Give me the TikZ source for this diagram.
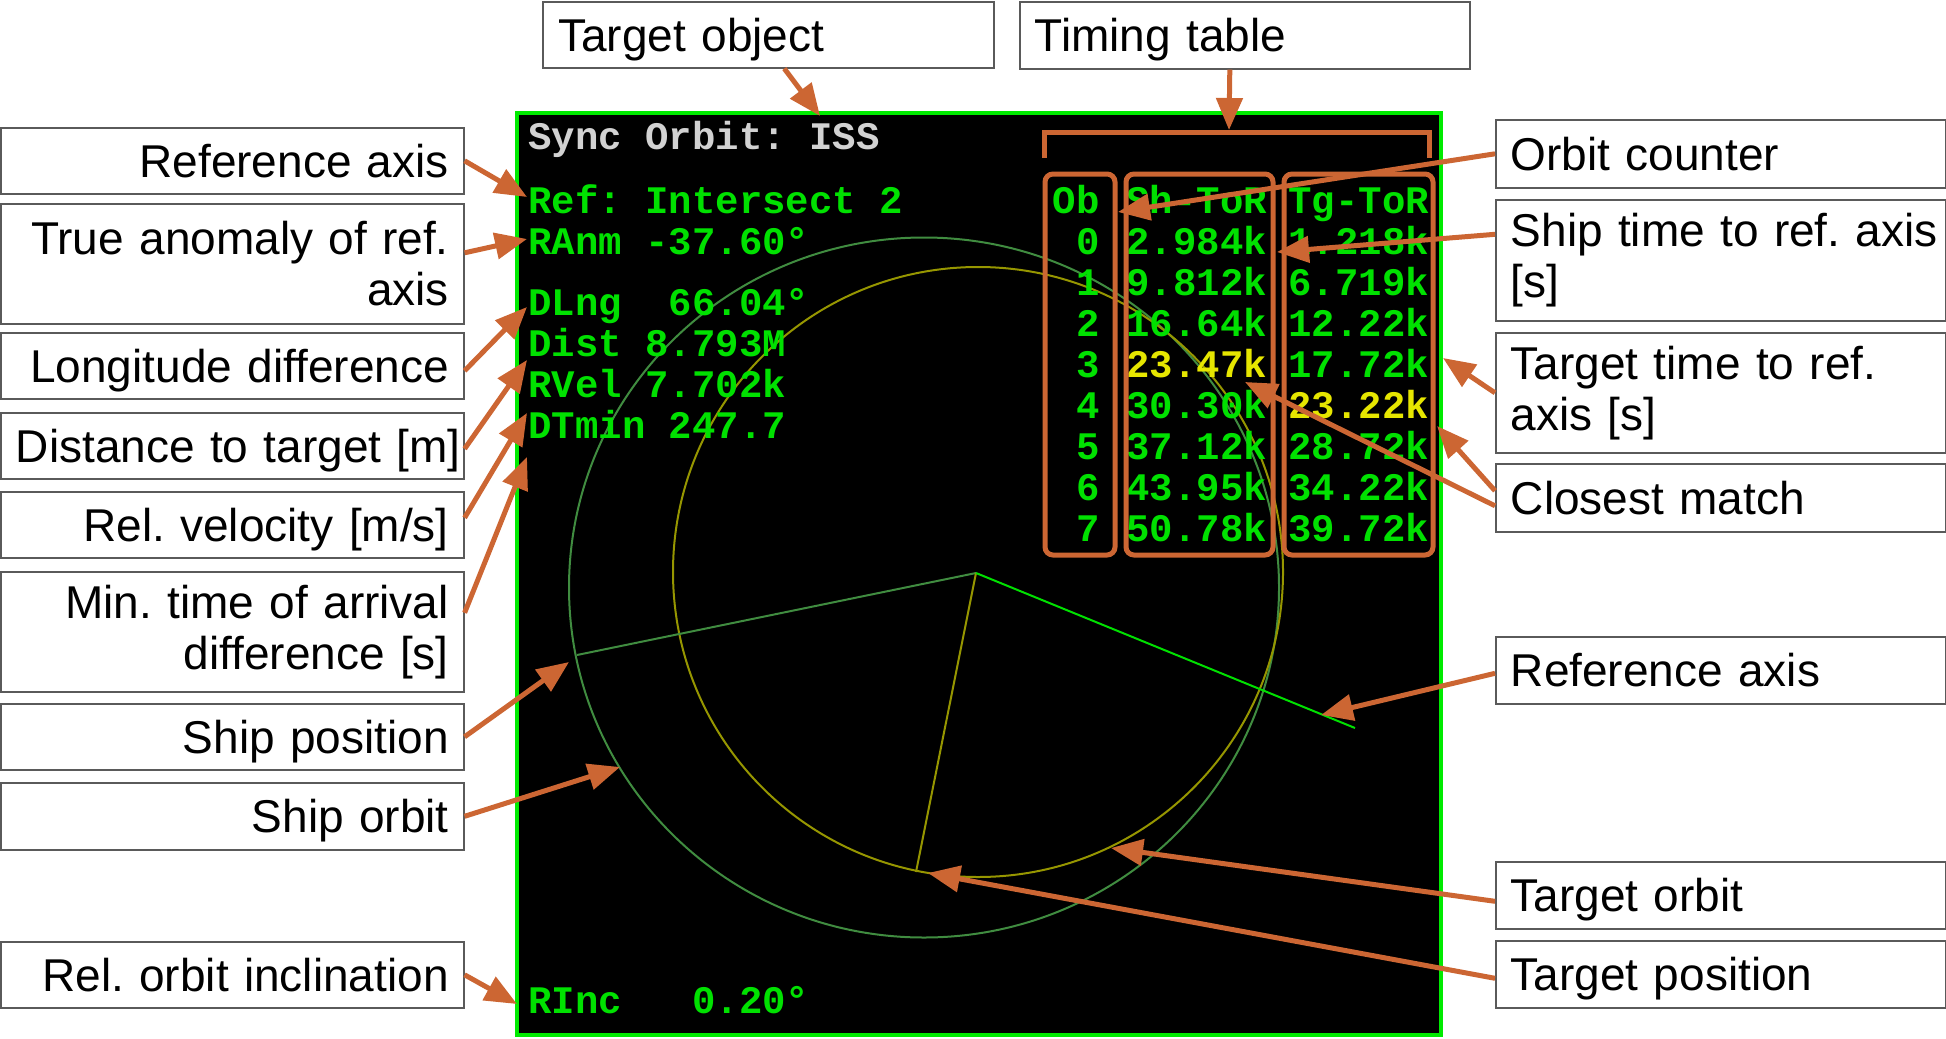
\documentclass[tikz,border=0pt]{standalone}
\usepackage{fontspec}
\setmainfont{Liberation Sans}
\newfontfamily\scrfont{Liberation Mono}
\usetikzlibrary{arrows.meta,calc}
\definecolor{arrorange}{RGB}{204,102,51}
\definecolor{scrgreen}{RGB}{0,225,0}
\definecolor{bordergreen}{RGB}{0,235,0}
\definecolor{shiporb}{RGB}{64,140,64}
\definecolor{tgtorb}{RGB}{150,150,0}
\definecolor{hilite}{RGB}{230,230,0}
\definecolor{syncgray}{RGB}{210,210,210}
\definecolor{boxgray}{RGB}{90,90,90}
\begin{document}
\frenchspacing
\begin{tikzpicture}[x=0.5pt,y=-0.5pt,
  lab/.style={draw=boxgray, line width=0.8pt, fill=white, inner sep=0pt,
    font=\fontsize{23}{25.5}\selectfont},
  one/.style={text height=16.5pt, text depth=0pt},
  labL/.style={lab, align=right, text width=216.5pt, minimum width=231.5pt, anchor=north west},
  labR/.style={lab, align=left, text width=210pt, minimum width=225pt, anchor=north west},
  scr/.style={font=\scrfont\bfseries\fontsize{19.5}{20.5}\selectfont, text=scrgreen,
    anchor=base west, inner sep=0pt},
  scrR/.style={scr, anchor=base east},
  arr/.style={draw=arrorange, line width=2.5pt, -{Triangle[length=16pt,width=13pt]}},
  obox/.style={draw=arrorange, line width=2.5pt, rounded corners=4pt},
  orb/.style={line width=1pt}
]
\useasboundingbox (0,0) rectangle (1946,1038);

% ---------- screen ----------
\fill[black] (517,113) rectangle (1441,1035);
\draw[shiporb, orb] (924,587.5) ellipse [x radius=177.5pt, y radius=175pt];
\draw[tgtorb, orb] (978,572) circle [radius=152.5pt];
\coordinate (ctr) at (976,573);
\coordinate (spos) at (577,655);
\coordinate (tpos) at (916,872);
\coordinate (refend) at (1355,728);
\draw[shiporb, orb] (ctr) -- (spos);
\draw[tgtorb, orb] (ctr) -- (tpos);
\draw[scrgreen, orb] (ctr) -- (refend);

\node[scr, text=syncgray] (sync) at (528,149) {Sync Orbit: ISS};
\node[scr] (l1) at (528,213) {Ref: Intersect 2};
\node[scr] (l2) at (528,254) {RAnm -37.60°};
\node[scr] (l3) at (528,315) {DLng\ \ 66.04°};
\node[scr] (l4) at (528,356) {Dist 8.793M};
\node[scr] (l5) at (528,397) {RVel 7.702k};
\node[scr] (l6) at (528,438) {DTmin 247.7};
\node[scr] (l7) at (528,1013) {RInc\ \ \ 0.20°};

% table
\node[scrR] (ob) at (1100,213) {Ob};
\node[scr] (shh) at (1126,213) {Sh-ToR};
\node[scr] (tgh) at (1288,213) {Tg-ToR};
\node[scrR] (o0) at (1100,254) {0};
\node[scrR] (o1) at (1100,295) {1};
\node[scrR] (o2) at (1100,336) {2};
\node[scrR] (o3) at (1100,377) {3};
\node[scrR] (o4) at (1100,418) {4};
\node[scrR] (o5) at (1100,459) {5};
\node[scrR] (o6) at (1100,500) {6};
\node[scrR] (o7) at (1100,541) {7};
\node[scr] (s0) at (1126,254) {2.984k};
\node[scr] (s1) at (1126,295) {9.812k};
\node[scr] (s2) at (1126,336) {16.64k};
\node[scr, text=hilite] (s3) at (1126,377) {23.47k};
\node[scr] (s4) at (1126,418) {30.30k};
\node[scr] (s5) at (1126,459) {37.12k};
\node[scr] (s6) at (1126,500) {43.95k};
\node[scr] (s7) at (1126,541) {50.78k};
\node[scr] (g0) at (1288,254) {1.218k};
\node[scr] (g1) at (1288,295) {6.719k};
\node[scr] (g2) at (1288,336) {12.22k};
\node[scr] (g3) at (1288,377) {17.72k};
\node[scr, text=hilite] (g4) at (1288,418) {23.22k};
\node[scr] (g5) at (1288,459) {28.72k};
\node[scr] (g6) at (1288,500) {34.22k};
\node[scr] (g7) at (1288,541) {39.72k};

\draw[bordergreen, line width=1.8pt] (517,113) rectangle (1441,1035);

% orange frames
\draw[obox] (1045,174) rectangle (1115,555);
\draw[obox] (1126,174) rectangle (1273,555);
\draw[obox] (1284,174) rectangle (1433,555);
\draw[draw=arrorange, line width=2.5pt] (1044,158) -- (1044,132) -- (1429,132) -- (1429,158);

% ---------- label boxes ----------
\node[labL, one, minimum height=33pt] (refL) at (0,127) {Reference axis};
\node[labL, minimum height=60pt] (anomL) at (0,203) {\mbox{True anomaly of ref.}\\axis};
\node[labL, one, minimum height=33pt] (lngL) at (0,332) {Longitude difference};
\node[labL, one, minimum height=33pt] (distL) at (0,412) {\mbox{Distance to target [m]}};
\node[labL, one, minimum height=33pt] (velL) at (0,491) {Rel. velocity [m/s]};
\node[labL, minimum height=60pt] (dtL) at (0,571) {\mbox{Min. time of arrival}\\difference [s]};
\node[labL, one, minimum height=33pt] (sposL) at (0,703) {Ship position};
\node[labL, one, minimum height=33.5pt] (sorbL) at (0,782) {Ship orbit};
\node[labL, one, minimum height=33pt] (incL) at (0,941) {Rel. orbit inclination};

\node[labR, one, minimum height=34pt] (obR) at (1495,119) {Orbit counter};
\node[labR, minimum height=60.5pt] (shR) at (1495,199) {\mbox{Ship time to ref. axis}\\{}[s]};
\node[labR, minimum height=60pt] (tgR) at (1495,332) {\mbox{Target time to ref.}\\axis [s]};
\node[labR, one, minimum height=34pt] (cmR) at (1495,463) {Closest match};
\node[labR, one, minimum height=33.5pt] (refR) at (1495,636) {Reference axis};
\node[labR, one, minimum height=33.5pt] (torbR) at (1495,861) {Target orbit};
\node[labR, one, minimum height=33.5pt] (tposR) at (1495,940) {Target position};

\node[labR, one, minimum width=225.5pt, minimum height=33pt] (tobj) at (542,1) {Target object};
\node[labR, one, minimum height=33.5pt] (ttab) at (1019,1) {Timing table};

% ---------- arrow targets ----------
\coordinate (tRef) at (527,197);
\coordinate (tRAnm) at (527,239);
\coordinate (tDLng) at (527,307);
\coordinate (tDist) at (527,360);
\coordinate (tRVel) at (527,413);
\coordinate (tDTmin) at (527,457);
\coordinate (tShipPos) at (569,662);
\coordinate (tShipOrb) at (620,767);
\coordinate (tRInc) at (517,1004);
\coordinate (tTobj) at (820,116);
\coordinate (tTT) at (1229,130);
\coordinate (tOb) at (1118,212);
\coordinate (tSh) at (1277,252);
\coordinate (tTg) at (1443,358);
\coordinate (tCM1) at (1437,426);
\coordinate (tCM2) at (1245,382);
\coordinate (tRefR) at (1321,715);
\coordinate (tTOrb) at (1111,848);
\coordinate (tTPos) at (928,873);

% ---------- arrows ----------
\draw[arr] (refL.east) -- (tRef);
\draw[arr] ([yshift=5.5pt]anomL.east) -- (tRAnm);
\draw[arr] ([yshift=-2.5pt]lngL.east) -- (tDLng);
\draw[arr] ([yshift=-1.5pt]distL.east) -- (tDist);
\draw[arr] ([yshift=3.5pt]velL.east) -- (tRVel);
\draw[arr] ([yshift=9.5pt]dtL.east) -- (tDTmin);
\draw[arr] (sposL.east) -- (tShipPos);
\draw[arr] (sorbL.east) -- (tShipOrb);
\draw[arr] (incL.east) -- (tRInc);
\draw[arr] ([xshift=8pt]tobj.south) -- (tTobj);
\draw[arr] ([xshift=-7.5pt]ttab.south) -- (tTT);
\draw[arr] (obR.west) -- (tOb);
\draw[arr] ([yshift=13pt]shR.west) -- (tSh);
\draw[arr] (tgR.west) -- (tTg);
\draw[arr] ([yshift=3.5pt]cmR.west) -- (tCM1);
\draw[arr] ([yshift=-4pt]cmR.west) -- (tCM2);
\draw[arr] ([yshift=-1.5pt]refR.west) -- (tRefR);
\draw[arr] ([yshift=-3pt]torbR.west) -- (tTOrb);
\draw[arr] ([yshift=-2pt]tposR.west) -- (tTPos);
\end{tikzpicture}
\end{document}
